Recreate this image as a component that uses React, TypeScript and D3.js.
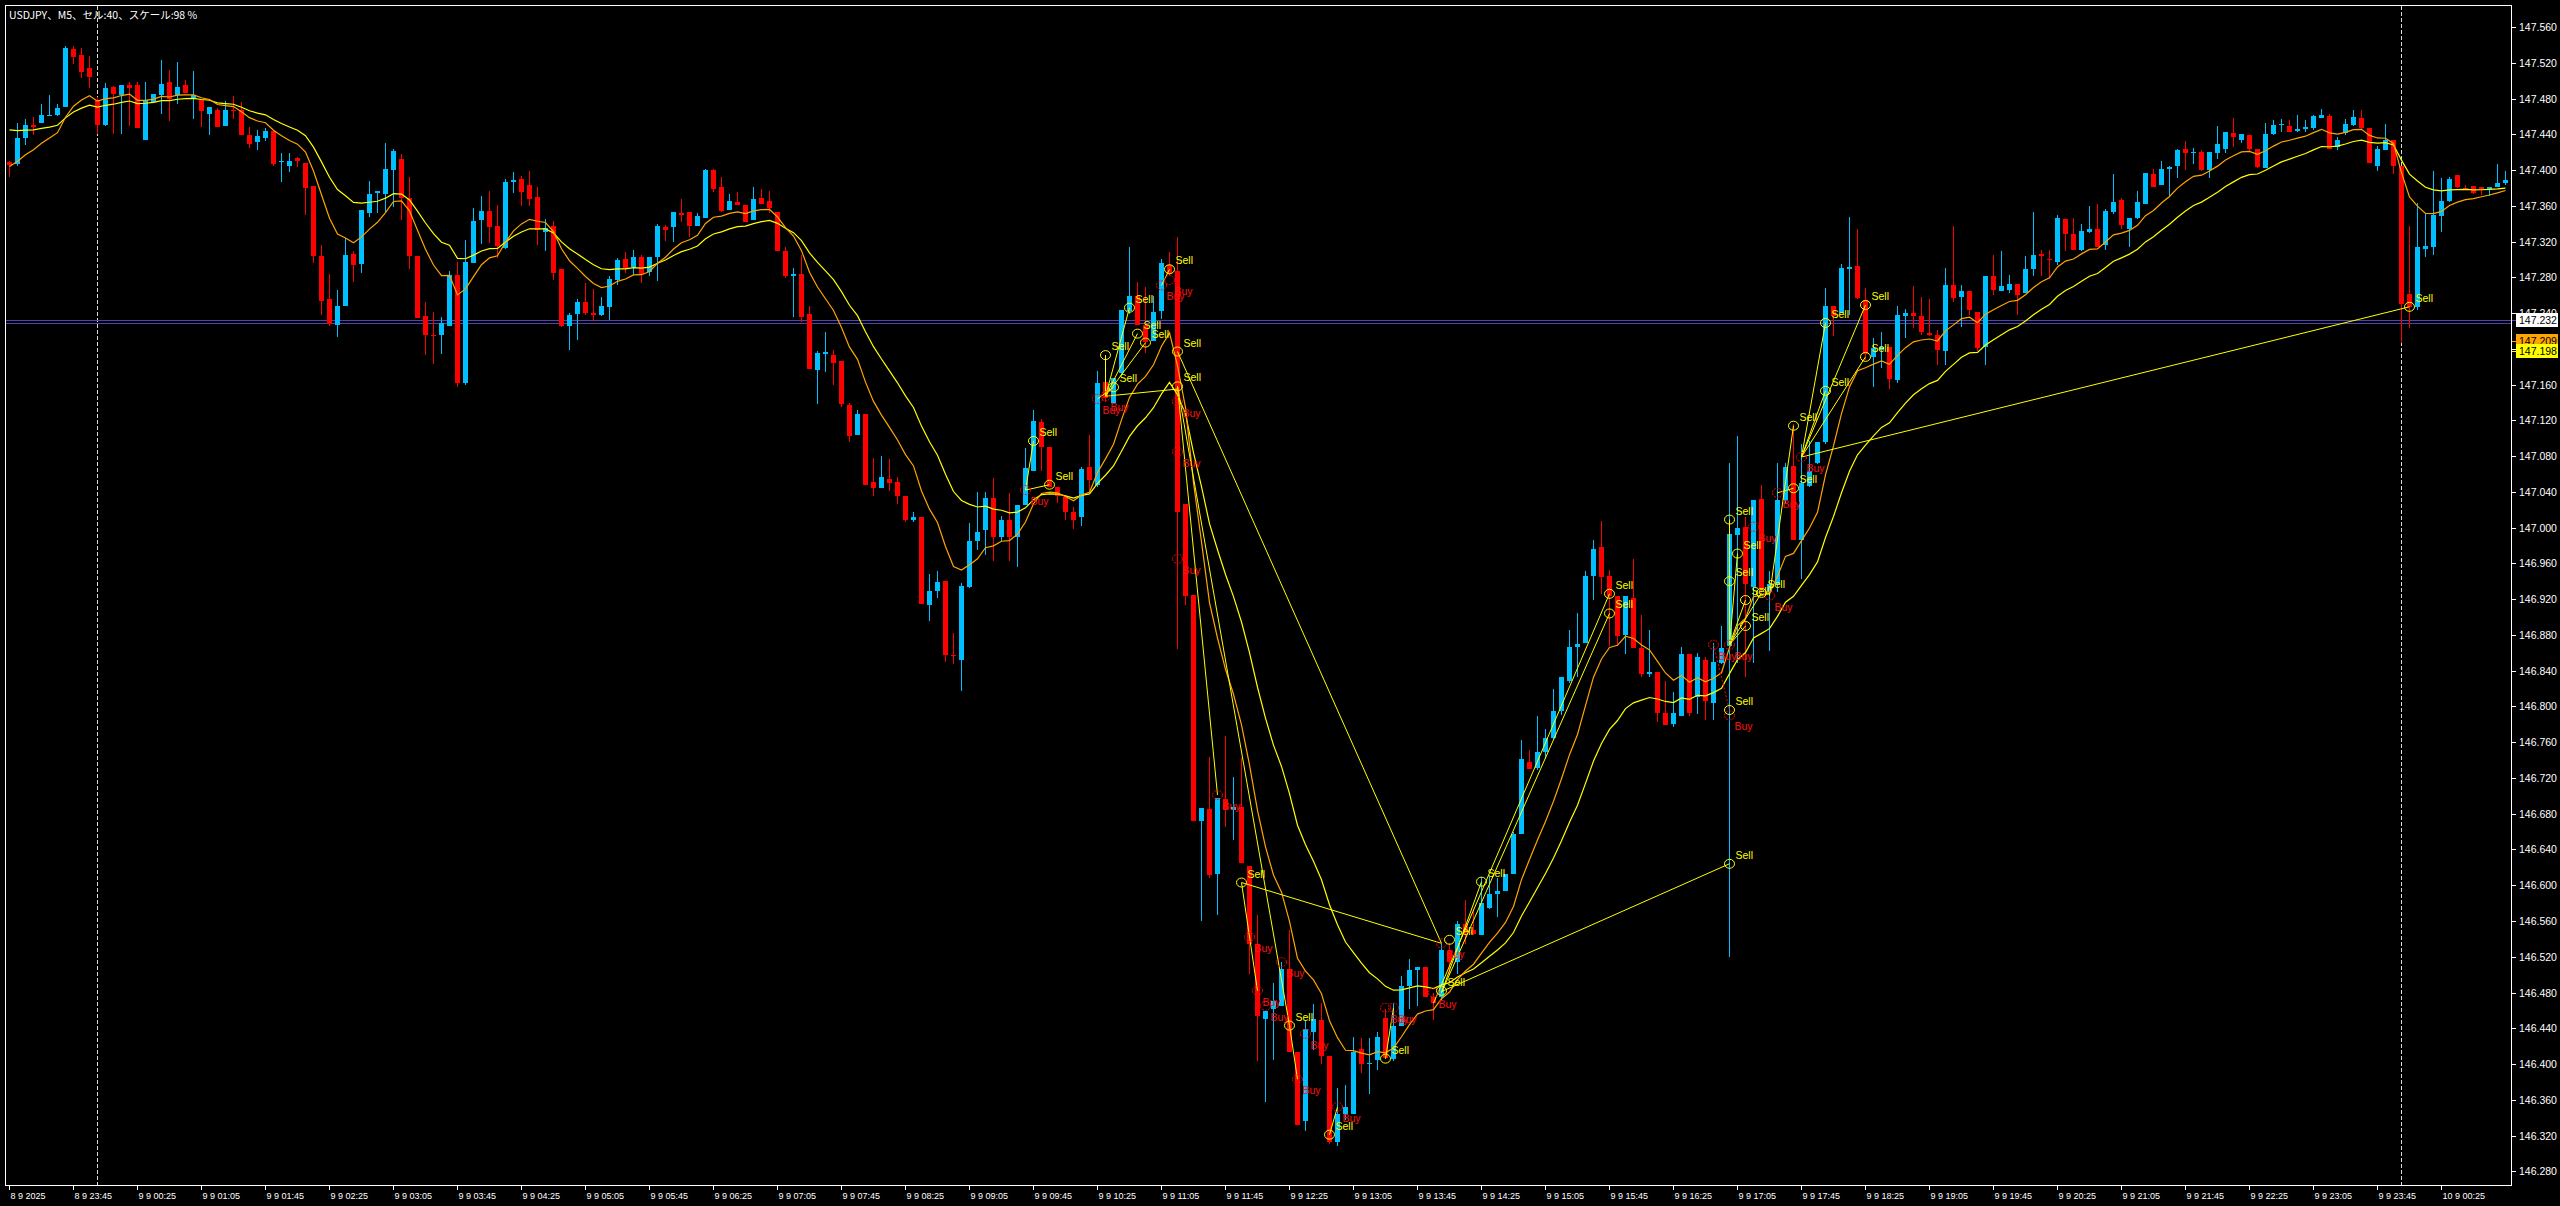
import React, { useEffect } from "react";
import * as d3 from "d3";

const W = 2560;
const H = 1206;

// M5 bars, bar index 0 = 9 9 00:00 ; first visible bar = 8 9 23:05 (index -11)
const startIndex = -11;

const opens = [
  147.409,147.407,147.436,147.450,147.453,147.461,147.462,147.471,147.535,147.529,
  147.514,147.478,147.450,147.493,147.484,147.495,147.495,147.434,147.476,147.484,
  147.498,147.484,147.495,147.480,147.478,147.463,147.467,147.449,147.467,147.467,
  147.439,147.431,147.436,147.444,147.409,147.405,147.414,147.408,147.382,147.304,
  147.256,147.227,147.248,147.306,147.295,147.352,147.374,147.373,147.400,147.412,
  147.369,147.304,147.237,147.216,147.215,147.226,147.283,147.162,147.296,147.344,
  147.354,147.337,147.313,147.387,147.390,147.383,147.370,147.331,147.337,147.289,
  147.225,147.239,147.252,147.240,147.238,147.247,147.277,147.300,147.291,147.303,
  147.286,147.303,147.336,147.336,147.352,147.353,147.337,147.346,147.400,147.381,
  147.355,147.364,147.361,147.344,147.369,147.365,147.353,147.309,147.281,147.284,
  147.239,147.176,147.194,147.193,147.186,147.137,147.104,147.127,147.051,147.044,
  147.054,147.051,147.035,147.008,147.012,146.914,146.929,146.940,146.858,146.852,
  146.934,146.985,146.997,147.033,146.990,147.008,146.990,147.025,147.063,147.118,
  147.090,147.046,147.034,147.018,147.012,147.068,147.048,147.163,147.139,147.173,
  147.242,147.259,147.227,147.209,147.242,147.294,147.287,147.026,146.925,146.672,
  146.685,146.613,146.697,146.684,146.687,146.621,146.534,146.450,146.461,146.465,
  146.506,146.414,146.336,146.436,146.449,146.409,146.313,146.344,146.344,146.417,
  146.400,146.405,146.452,146.406,146.442,146.487,146.505,146.508,146.475,146.475,
  146.526,146.514,146.557,146.550,146.544,146.575,146.590,146.593,146.612,146.657,
  146.738,146.731,146.749,146.765,146.795,146.829,146.866,146.871,146.946,146.978,
  146.946,146.924,146.880,146.921,146.865,146.836,146.838,146.793,146.780,146.789,
  146.859,146.810,146.852,146.804,146.849,146.868,146.992,147.001,146.934,147.032,
  146.928,146.937,147.031,147.069,146.986,147.047,147.072,147.096,147.248,147.240,
  147.289,147.293,147.255,147.191,147.199,147.202,147.165,147.237,147.240,147.237,
  147.218,147.215,147.198,147.271,147.258,147.265,147.241,147.202,147.281,147.265,
  147.266,147.273,147.263,147.289,147.306,147.301,147.297,147.345,147.329,147.311,
  147.331,147.334,147.316,147.353,147.366,147.334,147.346,147.362,147.396,147.383,
  147.401,147.404,147.423,147.419,147.420,147.400,147.419,147.424,147.441,147.434,
  147.439,147.424,147.402,147.440,147.451,147.449,147.444,147.446,147.447,147.458,
  147.460,147.426,147.441,147.450,147.458,147.447,147.404,147.422,147.434,147.404,
  147.261,147.247,147.312,147.314,147.349,147.365,147.394,147.380,147.382,147.381,
  147.379,147.381,147.386,
];

const highs = [
  147.410,147.453,147.457,147.459,147.474,147.484,147.474,147.539,147.539,147.537,
  147.528,147.482,147.497,147.494,147.495,147.499,147.499,147.498,147.485,147.523,
  147.512,147.521,147.501,147.511,147.478,147.470,147.469,147.477,147.483,147.476,
  147.448,147.445,147.447,147.444,147.419,147.419,147.415,147.408,147.382,147.316,
  147.284,147.266,147.324,147.309,147.355,147.388,147.376,147.430,147.423,147.418,
  147.392,147.304,147.252,147.241,147.236,147.287,147.297,147.322,147.357,147.371,
  147.376,147.361,147.390,147.398,147.393,147.399,147.381,147.345,147.343,147.289,
  147.240,147.256,147.274,147.267,147.258,147.281,147.302,147.308,147.311,147.305,
  147.303,147.340,147.338,147.353,147.368,147.353,147.352,147.401,147.401,147.392,
  147.373,147.375,147.361,147.381,147.379,147.377,147.353,147.314,147.290,147.305,
  147.248,147.198,147.219,147.199,147.186,147.139,147.132,147.127,147.078,147.080,
  147.077,147.057,147.035,147.017,147.012,146.948,146.951,146.940,146.882,146.938,
  147.005,147.040,147.040,147.056,147.013,147.039,147.025,147.089,147.132,147.122,
  147.090,147.046,147.037,147.023,147.068,147.104,147.175,147.165,147.167,147.243,
  147.314,147.275,147.269,147.259,147.301,147.308,147.325,147.026,146.925,146.686,
  146.743,146.698,146.767,146.721,146.742,146.621,146.567,146.459,146.491,146.514,
  146.550,146.414,146.449,146.467,146.468,146.409,146.373,146.377,146.430,146.429,
  146.429,146.436,146.462,146.468,146.498,146.518,146.509,146.508,146.480,146.534,
  146.535,146.560,146.583,146.573,146.609,146.609,146.608,146.612,146.659,146.762,
  146.751,146.789,146.775,146.820,146.833,146.885,146.904,146.951,146.986,147.007,
  146.953,146.924,146.924,146.965,146.902,146.885,146.838,146.828,146.816,146.867,
  146.859,146.860,146.855,146.871,146.890,147.072,147.103,147.012,147.031,147.048,
  146.951,147.072,147.072,147.116,147.094,147.097,147.096,147.268,147.248,147.295,
  147.348,147.334,147.268,147.212,147.219,147.202,147.248,147.245,147.270,147.258,
  147.256,147.221,147.290,147.337,147.271,147.265,147.241,147.282,147.305,147.309,
  147.283,147.273,147.304,147.353,147.311,147.310,147.350,147.345,147.346,147.340,
  147.360,147.362,147.356,147.396,147.369,147.346,147.376,147.397,147.401,147.410,
  147.404,147.424,147.432,147.425,147.422,147.420,147.449,147.443,147.458,147.440,
  147.439,147.424,147.453,147.456,147.457,147.456,147.462,147.456,147.462,147.468,
  147.463,147.437,147.457,147.467,147.467,147.447,147.427,147.451,147.434,147.404,
  147.337,147.363,147.352,147.399,147.391,147.392,147.394,147.383,147.382,147.381,
  147.381,147.407,147.399,
];

const lows = [
  147.392,147.404,147.428,147.439,147.453,147.461,147.460,147.471,147.519,147.503,
  147.492,147.440,147.449,147.440,147.440,147.449,147.447,147.434,147.476,147.463,
  147.455,147.474,147.486,147.457,147.448,147.439,147.448,147.449,147.457,147.439,
  147.425,147.422,147.432,147.404,147.387,147.398,147.403,147.350,147.296,147.238,
  147.225,147.213,147.248,147.275,147.285,147.348,147.352,147.353,147.359,147.344,
  147.289,147.235,147.193,147.183,147.194,147.226,147.157,147.159,147.296,147.317,
  147.318,147.302,147.312,147.374,147.360,147.360,147.316,147.309,147.277,147.224,
  147.199,147.210,147.238,147.231,147.237,147.232,147.271,147.285,147.283,147.274,
  147.282,147.276,147.321,147.320,147.342,147.325,147.337,147.346,147.375,147.353,
  147.355,147.361,147.342,147.344,147.362,147.352,147.309,147.279,147.236,147.230,
  147.177,147.138,147.174,147.160,147.135,147.096,147.104,147.048,147.035,147.044,
  147.041,147.026,147.006,147.006,146.915,146.896,146.921,146.850,146.848,146.817,
  146.932,146.975,146.969,146.963,146.985,146.963,146.956,147.025,147.063,147.063,
  147.046,147.027,147.009,146.999,147.002,147.041,147.045,147.141,147.139,147.171,
  147.239,147.227,147.195,147.209,147.233,147.283,146.864,146.914,146.672,146.560,
  146.608,146.567,146.665,146.651,146.625,146.501,146.403,146.358,146.405,146.465,
  146.413,146.332,146.325,146.416,146.400,146.311,146.308,146.337,146.344,146.390,
  146.367,146.393,146.406,146.403,146.442,146.462,146.465,146.475,146.449,146.472,
  146.501,146.501,146.534,146.544,146.544,146.573,146.564,146.593,146.612,146.657,
  146.730,146.729,146.741,146.764,146.790,146.826,146.833,146.871,146.919,146.926,
  146.868,146.868,146.859,146.865,146.833,146.833,146.783,146.779,146.777,146.789,
  146.789,146.791,146.785,146.785,146.848,146.520,146.849,146.833,146.849,146.928,
  146.862,146.928,147.028,146.986,146.943,147.045,147.071,147.094,147.214,147.240,
  147.238,147.256,147.188,147.157,147.179,147.155,147.162,147.212,147.223,147.216,
  147.214,147.182,147.182,147.252,147.224,147.238,147.198,147.182,147.260,147.265,
  147.263,147.238,147.263,147.281,147.281,147.279,147.294,147.309,147.311,147.309,
  147.330,147.314,147.310,147.351,147.334,147.314,147.345,147.362,147.381,147.383,
  147.371,147.391,147.400,147.407,147.399,147.391,147.412,147.419,147.426,147.430,
  147.420,147.402,147.402,147.439,147.443,147.442,147.443,147.442,147.445,147.458,
  147.423,147.422,147.439,147.449,147.445,147.408,147.399,147.422,147.396,147.206,
  147.223,147.243,147.303,147.305,147.331,147.364,147.380,147.378,147.373,147.372,
  147.371,147.381,147.383,
];

const closes = [
  147.406,147.436,147.450,147.448,147.462,147.462,147.469,147.537,147.527,147.510,
  147.504,147.450,147.492,147.485,147.495,147.492,147.447,147.478,147.485,147.496,
  147.479,147.493,147.486,147.484,147.466,147.470,147.448,147.467,147.466,147.439,
  147.429,147.438,147.444,147.407,147.410,147.410,147.410,147.380,147.304,147.253,
  147.228,147.248,147.305,147.294,147.355,147.373,147.376,147.401,147.421,147.369,
  147.304,147.235,147.215,147.215,147.229,147.283,147.162,147.297,147.343,147.354,
  147.336,147.315,147.387,147.389,147.375,147.368,147.333,147.335,147.285,147.226,
  147.238,147.252,147.240,147.238,147.248,147.278,147.299,147.290,147.303,147.284,
  147.303,147.337,147.333,147.353,147.350,147.337,147.349,147.400,147.379,147.354,
  147.365,147.361,147.342,147.368,147.362,147.358,147.309,147.282,147.284,147.236,
  147.177,147.195,147.197,147.184,147.138,147.103,147.127,147.048,147.044,147.057,
  147.050,147.035,147.008,147.012,146.915,146.929,146.939,146.858,146.856,146.935,
  146.985,146.995,147.033,146.989,147.008,146.989,147.025,147.067,147.119,147.090,
  147.046,147.035,147.017,147.008,147.066,147.053,147.162,147.145,147.167,147.243,
  147.259,147.227,147.208,147.241,147.296,147.285,147.017,146.923,146.672,146.686,
  146.611,146.698,146.684,146.688,146.625,146.534,146.454,146.459,146.470,146.506,
  146.413,146.332,146.439,146.450,146.409,146.313,146.344,146.352,146.413,146.400,
  146.401,146.430,146.407,146.442,146.487,146.505,146.509,146.475,146.468,146.528,
  146.514,146.557,146.547,146.546,146.580,146.590,146.593,146.612,146.657,146.741,
  146.730,146.749,146.765,146.795,146.833,146.867,146.870,146.946,146.976,146.945,
  146.924,146.879,146.924,146.865,146.836,146.838,146.793,146.779,146.793,146.859,
  146.793,146.855,146.806,146.850,146.865,146.993,147.000,146.937,147.031,146.931,
  146.937,147.031,147.068,146.986,147.050,147.063,147.096,147.248,147.237,147.290,
  147.292,147.257,147.194,147.201,147.202,147.166,147.238,147.240,147.237,147.219,
  147.216,147.199,147.271,147.257,147.265,147.243,147.201,147.282,147.266,147.270,
  147.273,147.260,147.289,147.305,147.304,147.299,147.346,147.328,147.311,147.332,
  147.334,147.314,147.354,147.364,147.338,147.346,147.364,147.397,147.381,147.401,
  147.403,147.422,147.419,147.420,147.400,147.420,147.429,147.442,147.437,147.440,
  147.423,147.403,147.440,147.450,147.452,147.442,147.446,147.448,147.460,147.462,
  147.424,147.434,147.451,147.459,147.447,147.408,147.423,147.434,147.404,147.250,
  147.247,147.314,147.315,147.350,147.365,147.390,147.381,147.379,147.374,147.379,
  147.381,147.385,147.389,
];

// moving-average values read at the first visible bar (orange = fast, yellow = slow)
const maFastSeed = 147.404;
const maSlowSeed = 147.445;
const maFastPeriod = 10;
const maSlowPeriod = 20;

const priceTickLabels = [
  "147.560","147.520","147.480","147.440","147.400","147.360","147.320","147.280","147.240",
  "147.200","147.160","147.120","147.080","147.040","147.000","146.960","146.920","146.880",
  "146.840","146.800","146.760","146.720","146.680","146.640","146.600","146.560","146.520",
  "146.480","146.440","146.400","146.360","146.320","146.280",
];

const timeTickBars = [
  -11,-3,5,13,21,29,37,45,53,61,69,77,85,93,101,109,117,125,133,141,149,157,165,173,181,189,
  197,205,213,221,229,237,245,253,261,269,277,285,293,
];
const timeTickLabels = [
  "8 9 2025","8 9 23:45","9 9 00:25","9 9 01:05","9 9 01:45","9 9 02:25","9 9 03:05","9 9 03:45",
  "9 9 04:25","9 9 05:05","9 9 05:45","9 9 06:25","9 9 07:05","9 9 07:45","9 9 08:25","9 9 09:05",
  "9 9 09:45","9 9 10:25","9 9 11:05","9 9 11:45","9 9 12:25","9 9 13:05","9 9 13:45","9 9 14:25",
  "9 9 15:05","9 9 15:45","9 9 16:25","9 9 17:05","9 9 17:45","9 9 18:25","9 9 19:05","9 9 19:45",
  "9 9 20:25","9 9 21:05","9 9 21:45","9 9 22:25","9 9 23:05","9 9 23:45","10 9 00:25",
];

const daySeparatorBars = [0, 288];
const horizontalLinePrices = [147.232, 147.229];
const tagValues = ["147.232", "147.209", "147.198"];
const tagFills = ["#ffffff", "#ffa500", "#ffff00"];

// trade history marks [bar, price]
const sellMarks = [
  [117,147.097],[119,147.048],[126,147.193],[127,147.157],[129,147.246],[130,147.217],[131,147.207],
  [134,147.289],[135,147.197],[135,147.158],[143,146.603],[149,146.443],[154,146.321],[161,146.406],
  [169,146.539],[168,146.482],[173,146.604],[189,146.926],[189,146.904],[204,147.009],[205,146.971],
  [204,146.940],[204,146.796],[204,146.624],[206,146.919],[206,146.890],[208,146.927],[212,147.044],
  [212,147.114],[216,147.229],[216,147.153],[221,147.249],[221,147.191],[289,147.247],
];
const buyMarks = [
  [116,147.042],[125,147.144],[126,147.147],[133,147.271],[134,147.277],[135,147.141],[135,147.085],
  [135,146.965],[140,146.701],[144,146.542],[145,146.482],[146,146.465],[148,146.514],[150,146.383],
  [151,146.434],[155,146.352],[161,146.463],[162,146.463],[168,146.535],[167,146.480],[202,146.869],
  [204,146.869],[204,146.790],[207,147.001],[209,146.924],[210,147.039],[213,147.079],
];
// trade connection lines [bar1, price1, bar2, price2]
const tradeLines = [
  [116,147.042,117,147.097],[116,147.042,119,147.048],[126,147.147,129,147.246],[126,147.147,126,147.193],
  [126,147.147,130,147.217],[126,147.147,131,147.207],[125,147.144,127,147.157],[126,147.147,135,147.155],
  [133,147.271,134,147.289],[135,147.197,168,146.535],[135,147.158,140,146.701],[135,147.158,149,146.443],
  [143,146.603,145,146.482],[143,146.603,168,146.535],[149,146.443,150,146.383],[154,146.321,155,146.352],
  [161,146.406,162,146.463],[167,146.468,189,146.926],[168,146.480,189,146.904],[168,146.481,204,146.624],
  [168,146.480,173,146.604],[204,146.869,204,147.009],[204,146.869,205,146.971],[204,146.869,206,146.919],
  [204,146.869,206,146.890],[204,146.869,208,146.927],[209,146.924,212,147.114],[210,147.039,212,147.044],
  [213,147.079,216,147.229],[213,147.079,216,147.153],[213,147.079,221,147.249],[213,147.079,221,147.191],
  [213,147.079,289,147.247],
];
const buyLines = [[202,146.869,204,146.796]];

const title = "USDJPY、M5、セル:40、スケール:98 %";

function ema(values: number[], period: number, seed: number) {
  const a = 2 / (period + 1);
  let e = seed;
  return values.map((v, k) => {
    if (k === 0) return seed;
    e = e + a * (v - e);
    return e;
  });
}

const LEFT = 5.5, TOP = 5.5, RIGHT = 2511.5, BOTTOM = 1185.5;
const BULL = "#00bfff";
const BEAR = "#ff0000";
const FONT = "'Liberation Sans', Arial, sans-serif";

export default function App() {
  useEffect(() => {
    document.body.style.margin = "0";
    document.body.style.background = "#000";
  }, []);

  const x = d3.scaleLinear().domain([0, 288]).range([97.5, 2401.5]);
  const y = d3.scaleLinear().domain([146.28, 147.56]).range([1171.3, 27]);

  const bars = d3.range(opens.length).map((k) => ({
    i: startIndex + k,
    o: opens[k],
    h: highs[k],
    l: lows[k],
    c: closes[k],
  }));

  const fast = ema(closes, maFastPeriod, maFastSeed);
  const slow = ema(closes, maSlowPeriod, maSlowSeed);
  const maLine = d3
    .line<number>()
    .x((_, k) => x(startIndex + k))
    .y((v) => y(v));

  return (
    <svg
      width={W}
      height={H}
      style={{ position: "fixed", left: 0, top: 0, display: "block", background: "#000" }}
    >
      <rect x={0} y={0} width={W} height={H} fill="#000" />
      <defs>
        <clipPath id="plot">
          <rect x={LEFT} y={TOP} width={RIGHT - LEFT} height={BOTTOM - TOP} />
        </clipPath>
      </defs>

      <g clipPath="url(#plot)">
        {daySeparatorBars.map((b) => (
          <line
            key={"sep" + b}
            x1={x(b)}
            x2={x(b)}
            y1={TOP}
            y2={BOTTOM}
            stroke="#d8d8d8"
            strokeWidth={1}
            strokeDasharray="4,2"
            shapeRendering="crispEdges"
          />
        ))}
        {horizontalLinePrices.map((p, k) => (
          <line
            key={"hl" + k}
            x1={LEFT}
            x2={RIGHT}
            y1={Math.round(y(p)) + 0.5}
            y2={Math.round(y(p)) + 0.5}
            stroke="#5044b0"
            strokeWidth={1}
            shapeRendering="crispEdges"
          />
        ))}

        <g shapeRendering="crispEdges">
          {bars.map((b) => {
            const cx = x(b.i);
            const up = b.c >= b.o;
            const col = up ? BULL : BEAR;
            const yo = Math.round(y(b.o));
            const yc = Math.round(y(b.c));
            const top = Math.min(yo, yc);
            const hgt = Math.max(1, Math.abs(yo - yc));
            const yh = Math.min(Math.round(y(b.h)), top);
            const yl = Math.max(Math.round(y(b.l)), top + hgt);
            return (
              <g key={"b" + b.i}>
                <line x1={cx} x2={cx} y1={yh} y2={yl} stroke={col} strokeWidth={1} />
                <rect x={cx - 2.5} y={top} width={5} height={hgt} fill={col} />
              </g>
            );
          })}
        </g>

        <path d={maLine(slow) || ""} fill="none" stroke="#ffff00" strokeWidth={1.2} />
        <path d={maLine(fast) || ""} fill="none" stroke="#ffa500" strokeWidth={1.2} />

        {tradeLines.map((t, k) => (
          <line
            key={"tl" + k}
            x1={x(t[0])}
            y1={y(t[1])}
            x2={x(t[2])}
            y2={y(t[3])}
            stroke="#ffff00"
            strokeWidth={1}
          />
        ))}
        {buyLines.map((t, k) => (
          <line
            key={"bl" + k}
            x1={x(t[0])}
            y1={y(t[1])}
            x2={x(t[2])}
            y2={y(t[3])}
            stroke="#ff0000"
            strokeWidth={1}
            strokeDasharray="2,2"
          />
        ))}
        {buyMarks.map((m, k) => (
          <g key={"bm" + k}>
            <ellipse cx={x(m[0])} cy={y(m[1])} rx={5} ry={4.5} fill="none" stroke="#ff0000" strokeWidth={1} strokeDasharray="2,1" />
            <text x={x(m[0]) + 5} y={y(m[1]) + 15} fill="#ff1010" fontSize={10.5} fontFamily={FONT}>
              Buy
            </text>
          </g>
        ))}
        {sellMarks.map((m, k) => (
          <g key={"sm" + k}>
            <ellipse cx={x(m[0])} cy={y(m[1])} rx={5} ry={4.5} fill="none" stroke="#ffff00" strokeWidth={1} />
            <text x={x(m[0]) + 6} y={y(m[1]) - 5} fill="#ffff00" fontSize={10.5} fontFamily={FONT}>
              Sell
            </text>
          </g>
        ))}
      </g>

      {/* frame */}
      <rect
        x={LEFT}
        y={TOP}
        width={RIGHT - LEFT}
        height={BOTTOM - TOP}
        fill="none"
        stroke="#ffffff"
        strokeWidth={1}
        shapeRendering="crispEdges"
      />

      {/* price axis */}
      {priceTickLabels.map((s) => {
        const yy = y(+s);
        return (
          <g key={"p" + s}>
            <line x1={RIGHT} x2={RIGHT + 4} y1={Math.round(yy) + 0.5} y2={Math.round(yy) + 0.5} stroke="#fff" shapeRendering="crispEdges" />
            <text x={2519} y={yy + 4} fill="#ffffff" fontSize={10.5} fontFamily={FONT}>
              {s}
            </text>
          </g>
        );
      })}
      {tagValues.map((s, k) => {
        const yy = y(+s);
        return (
          <g key={"tag" + s}>
            <line x1={RIGHT} x2={2516} y1={Math.round(yy) + 0.5} y2={Math.round(yy) + 0.5} stroke={k === 0 ? "#5044b0" : tagFills[k]} shapeRendering="crispEdges" />
            <rect x={2516} y={yy - 7} width={42} height={14} fill={tagFills[k]} shapeRendering="crispEdges" />
            <text x={2519} y={yy + 4} fill="#000" fontSize={10.5} fontFamily={FONT}>
              {s}
            </text>
          </g>
        );
      })}

      {/* time axis */}
      {timeTickBars.map((b, k) => (
        <g key={"t" + b}>
          <line x1={x(b)} x2={x(b)} y1={BOTTOM} y2={BOTTOM + 4} stroke="#fff" shapeRendering="crispEdges" />
          <text x={x(b) + 1} y={1199} fill="#ffffff" fontSize={9} fontFamily={FONT}>
            {timeTickLabels[k]}
          </text>
        </g>
      ))}

      <text x={9} y={19} fill="#ffffff" fontSize={10.5} fontFamily="'Noto Sans CJK JP', sans-serif">
        {title}
      </text>
    </svg>
  );
}
